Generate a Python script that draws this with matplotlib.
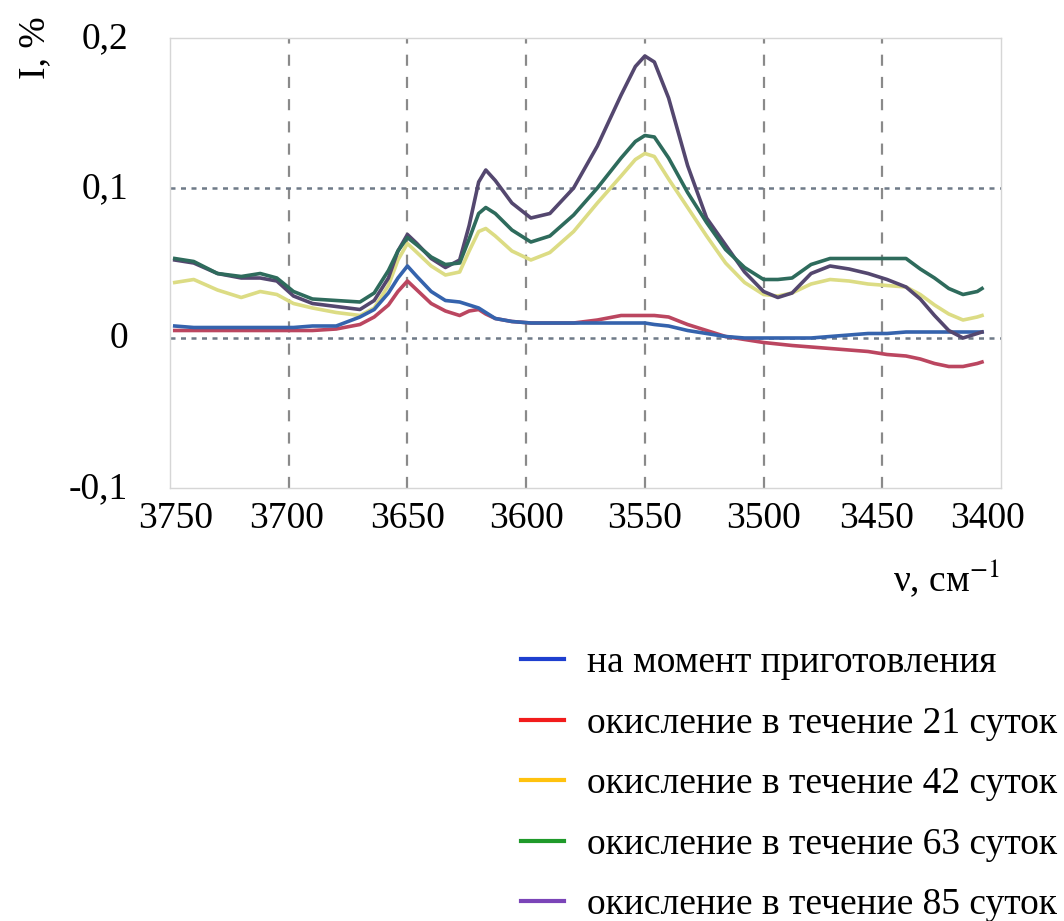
import matplotlib
matplotlib.use("Agg")
import matplotlib.pyplot as plt
from matplotlib.lines import Line2D
from matplotlib.transforms import ScaledTranslation

plt.rcParams['font.family'] = ['Liberation Serif', 'DejaVu Serif']
plt.rcParams['mathtext.fontset'] = 'stix'

# Wavenumber grid, cm^-1
wavenumber = [3748, 3740, 3730, 3720, 3712, 3705, 3698, 3690, 3680, 3670,
              3664, 3658, 3654, 3650, 3646, 3640, 3634, 3628, 3624, 3620,
              3617, 3613, 3606, 3598, 3590, 3580, 3570, 3560, 3554, 3550,
              3546, 3540, 3532, 3524, 3516, 3508, 3500, 3494, 3488, 3480,
              3472, 3464, 3456, 3448, 3440, 3434, 3428, 3422, 3416, 3410,
              3408]

# Intensity, %
day0 = [0.008, 0.007, 0.007, 0.007, 0.007, 0.007, 0.007, 0.008, 0.008, 0.014,
        0.019, 0.030, 0.040, 0.048, 0.041, 0.031, 0.025, 0.024, 0.022, 0.020,
        0.017, 0.013, 0.011, 0.010, 0.010, 0.010, 0.010, 0.010, 0.010, 0.010,
        0.009, 0.008, 0.005, 0.003, 0.001, 0.000, 0.000, 0.000, 0.000, 0.000,
        0.001, 0.002, 0.003, 0.003, 0.004, 0.004, 0.004, 0.004, 0.004, 0.004,
        0.004]
day21 = [0.005, 0.005, 0.005, 0.005, 0.005, 0.005, 0.005, 0.005, 0.006, 0.009,
         0.014, 0.022, 0.031, 0.038, 0.032, 0.023, 0.018, 0.015, 0.018, 0.019,
         0.016, 0.013, 0.011, 0.010, 0.010, 0.010, 0.012, 0.015, 0.015, 0.015,
         0.015, 0.014, 0.009, 0.005, 0.001, -0.001, -0.003, -0.004, -0.005, -0.006,
         -0.007, -0.008, -0.009, -0.011, -0.012, -0.014, -0.017, -0.019, -0.019, -0.017,
         -0.016]
day42 = [0.037, 0.039, 0.032, 0.027, 0.031, 0.029, 0.023, 0.020, 0.017, 0.015,
         0.020, 0.035, 0.052, 0.063, 0.057, 0.048, 0.042, 0.044, 0.058, 0.071,
         0.073, 0.068, 0.058, 0.052, 0.057, 0.071, 0.090, 0.108, 0.119, 0.123,
         0.121, 0.106, 0.087, 0.068, 0.050, 0.037, 0.029, 0.028, 0.030, 0.036,
         0.039, 0.038, 0.036, 0.035, 0.034, 0.029, 0.022, 0.016, 0.012, 0.014,
         0.015]
day63 = [0.053, 0.051, 0.043, 0.041, 0.043, 0.040, 0.031, 0.026, 0.025, 0.024,
         0.030, 0.045, 0.058, 0.067, 0.062, 0.054, 0.049, 0.050, 0.066, 0.083,
         0.087, 0.083, 0.072, 0.064, 0.068, 0.082, 0.100, 0.120, 0.131, 0.135,
         0.134, 0.120, 0.097, 0.077, 0.059, 0.047, 0.039, 0.039, 0.040, 0.049,
         0.053, 0.053, 0.053, 0.053, 0.053, 0.046, 0.040, 0.033, 0.029, 0.031,
         0.033]
day85 = [0.052, 0.050, 0.043, 0.040, 0.040, 0.038, 0.028, 0.023, 0.021, 0.019,
         0.025, 0.040, 0.058, 0.069, 0.063, 0.053, 0.047, 0.052, 0.075, 0.104,
         0.112, 0.105, 0.090, 0.080, 0.083, 0.100, 0.128, 0.162, 0.181, 0.188,
         0.184, 0.160, 0.115, 0.080, 0.062, 0.044, 0.031, 0.027, 0.030, 0.043,
         0.048, 0.046, 0.043, 0.039, 0.034, 0.026, 0.015, 0.005, 0.000, 0.003,
         0.004]

series_labels = ["на момент приготовления",
                 "окисление в течение 21 суток",
                 "окисление в течение 42 суток",
                 "окисление в течение 63 суток",
                 "окисление в течение 85 суток"]

x_ticks = [3750, 3700, 3650, 3600, 3550, 3500, 3450, 3400]
y_ticks = [-0.1, 0, 0.1, 0.2]
y_tick_labels = ["-0,1", "0", "0,1", "0,2"]

curve_colors = ["#3563ad", "#bb4660", "#dcdc84", "#2e6b5c", "#54476f"]
legend_colors = ["#1e3fcf", "#f21c1c", "#ffc20e", "#1f9a2a", "#7b45b8"]

fig = plt.figure(figsize=(10.64, 9.21), dpi=100)
ax = fig.add_axes([170 / 1064, 1 - 488 / 921, 831 / 1064, 450 / 921])

ax.set_xlim(3750, 3400)
ax.set_ylim(-0.1, 0.2)

# interior grid
for xv in x_ticks[1:-1]:
    ax.axvline(xv, color="#8a8a8a", lw=1.6, ls=(0, (5, 5)), zorder=1)
for yv in y_ticks[1:-1]:
    ax.axhline(yv, color="#6f7a88", lw=1.8, ls=(0, (2, 2.2)), zorder=1)

series = [day0, day21, day42, day63, day85]
order = [2, 1, 0, 4, 3]
for i in order:
    ax.plot(wavenumber, series[i], color=curve_colors[i], lw=2.6,
            solid_joinstyle="round", zorder=3)

for s in ax.spines.values():
    s.set_color("#d6d6d6")
    s.set_linewidth(1.0)

ax.set_xticks(x_ticks)
ax.set_xticklabels([str(v) for v in x_ticks])
ax.set_yticks(y_ticks)
ax.set_yticklabels(y_tick_labels)
ax.tick_params(axis="x", length=0, pad=10, labelsize=27)
ax.tick_params(axis="y", length=0, pad=30, labelsize=27)

# nudge the end tick labels inward
x_shift_px = [6, -2, 0, 0, 0, 0, -6, -14]
for lab, dx in zip(ax.get_xticklabels(), x_shift_px):
    lab.set_transform(lab.get_transform() + ScaledTranslation(dx / 100, 0, fig.dpi_scale_trans))
for lab in ax.get_yticklabels():
    lab.set_transform(lab.get_transform() + ScaledTranslation(0, 3 / 100, fig.dpi_scale_trans))

ax.set_ylabel("I, %", fontsize=27, rotation=90)
ax.yaxis.set_label_coords(-0.142, 0.978)
ax.set_xlabel("ν, см$^{-1}$", fontsize=27)
ax.xaxis.set_label_coords(0.935, -0.155)

handles = [Line2D([], [], color=c, lw=3) for c in legend_colors]
fig.legend(handles, series_labels, loc="upper left",
           bbox_to_anchor=(521 / 1064, 1 - 646 / 921),
           frameon=False, fontsize=27, handlelength=1.15, handletextpad=0.62,
           labelspacing=0.69, borderpad=0, borderaxespad=0)

fig.savefig("out.png", dpi=100)
